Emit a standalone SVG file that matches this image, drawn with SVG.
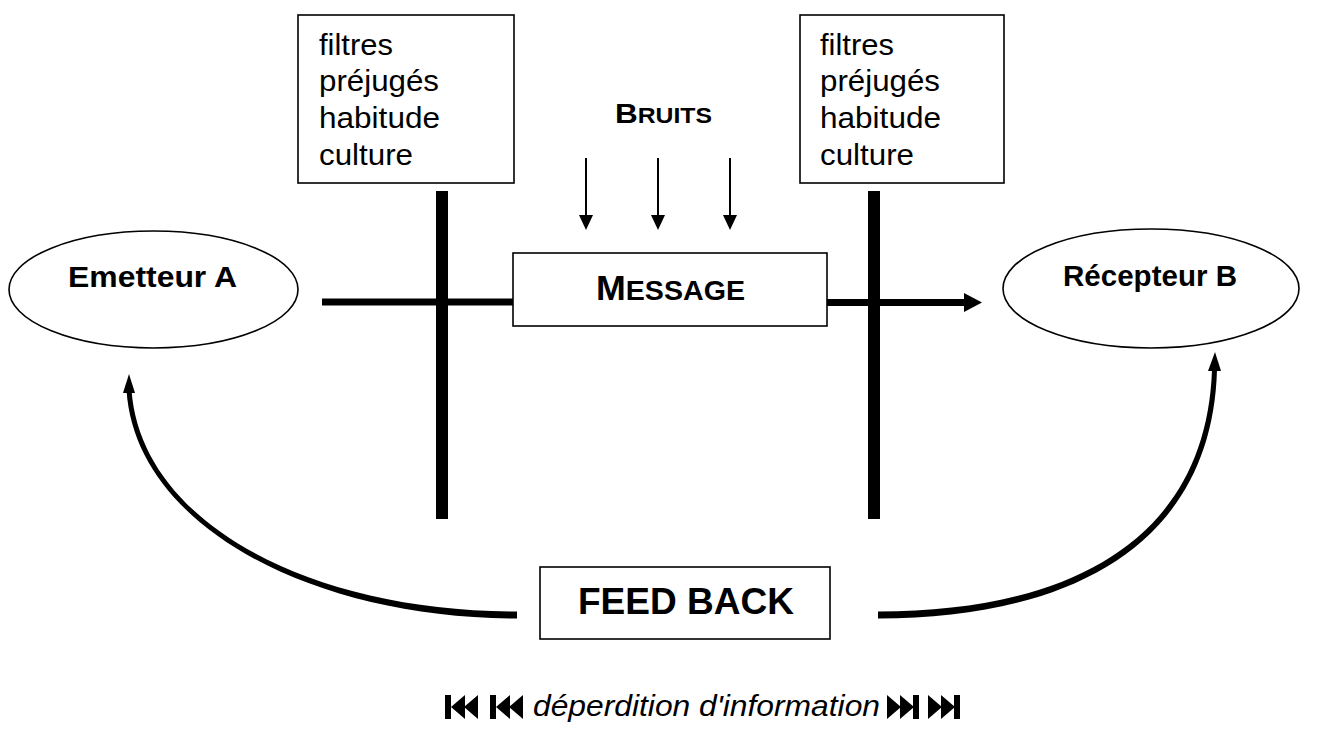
<svg xmlns="http://www.w3.org/2000/svg" width="1335" height="729" viewBox="0 0 1335 729">
<style>
text{font-family:"Liberation Sans",Arial,sans-serif;fill:#000}
.t{font-size:30px}
.b{font-weight:bold}
.box{fill:#fff;stroke:#000;stroke-width:1.6}
.bar{fill:#000}
.thin{stroke:#000;stroke-width:2;fill:none}
.thick{stroke:#000;stroke-width:7;fill:none}
</style>
<rect width="1335" height="729" fill="#fff"/>
<g id="connectors">
  <rect class="bar" x="436" y="191" width="12" height="328"/>
  <rect class="bar" x="868" y="191" width="12" height="328"/>
  <line class="thick" x1="322" y1="302" x2="514" y2="302"/>
  <line class="thick" x1="826" y1="302.5" x2="966" y2="302.5"/>
  <polygon points="964,293 982,302.5 964,312"/>
  <line class="thin" x1="586" y1="158" x2="586" y2="217"/>
  <polygon points="579,215 593,215 586,230"/>
  <line class="thin" x1="658" y1="158" x2="658" y2="217"/>
  <polygon points="651,215 665,215 658,230"/>
  <line class="thin" x1="730" y1="158" x2="730" y2="217"/>
  <polygon points="723,215 737,215 730,230"/>
  <path d="M517,618.5 C310,618.5 135,525 126.5,390 L131.5,390 C141,523 310,611.5 517,611.5 Z"/>
  <polygon points="129,374 123,393 135,393"/>
  <path d="M878,618.5 C1070,618.5 1212,545 1217,370 L1212,370 C1206,540 1070,611.5 878,611.5 Z"/>
  <polygon points="1215,352 1208,371 1221,371"/>
</g>
<g id="filtres-A">
  <rect class="box" x="298" y="15" width="216" height="168"/>
  <text class="t" x="319" y="55" textLength="74" lengthAdjust="spacingAndGlyphs">filtres</text>
  <text class="t" x="319" y="91" textLength="120" lengthAdjust="spacingAndGlyphs">préjugés</text>
  <text class="t" x="319" y="128" textLength="121" lengthAdjust="spacingAndGlyphs">habitude</text>
  <text class="t" x="319" y="165" textLength="94" lengthAdjust="spacingAndGlyphs">culture</text>
</g>
<g id="filtres-B">
  <rect class="box" x="800" y="15" width="204" height="168"/>
  <text class="t" x="820" y="55" textLength="74" lengthAdjust="spacingAndGlyphs">filtres</text>
  <text class="t" x="820" y="91" textLength="120" lengthAdjust="spacingAndGlyphs">préjugés</text>
  <text class="t" x="820" y="128" textLength="121" lengthAdjust="spacingAndGlyphs">habitude</text>
  <text class="t" x="820" y="165" textLength="94" lengthAdjust="spacingAndGlyphs">culture</text>
</g>
<g id="bruits">
  <text class="b" x="615" y="123" font-size="28" textLength="97" lengthAdjust="spacingAndGlyphs">B<tspan font-size="22">RUITS</tspan></text>
</g>
<g id="emetteur">
  <ellipse class="box" cx="153.5" cy="289.5" rx="144.5" ry="58.5"/>
  <text class="t b" x="68" y="287" textLength="169" lengthAdjust="spacingAndGlyphs">Emetteur A</text>
</g>
<g id="message">
  <rect class="box" x="513" y="253" width="314" height="73"/>
  <text class="b" x="596" y="300" font-size="35" textLength="149" lengthAdjust="spacingAndGlyphs">M<tspan font-size="28">ESSAGE</tspan></text>
</g>
<g id="recepteur">
  <ellipse class="box" cx="1151" cy="288.5" rx="148" ry="59.5"/>
  <text class="t b" x="1063" y="286" textLength="174" lengthAdjust="spacingAndGlyphs">Récepteur B</text>
</g>
<g id="feedback">
  <rect class="box" x="540" y="567" width="290" height="72"/>
  <text class="b" x="578" y="614" font-size="37" textLength="216" lengthAdjust="spacingAndGlyphs">FEED BACK</text>
</g>
<g id="deperdition">
  <rect x="445" y="695" width="6" height="24"/>
  <polygon points="451,707 465,695 465,719"/>
  <polygon points="464,707 478,695 478,719"/>
  <rect x="490" y="695" width="6" height="24"/>
  <polygon points="496,707 510,695 510,719"/>
  <polygon points="509,707 523,695 523,719"/>
  <text x="533" y="716" font-size="30" font-style="italic" textLength="347" lengthAdjust="spacingAndGlyphs">déperdition d'information</text>
  <polygon points="887,695 901,707 887,719"/>
  <polygon points="900,695 914,707 900,719"/>
  <rect x="913" y="695" width="6" height="24"/>
  <polygon points="928,695 942,707 928,719"/>
  <polygon points="941,695 955,707 941,719"/>
  <rect x="954" y="695" width="6" height="24"/>
</g>
</svg>
